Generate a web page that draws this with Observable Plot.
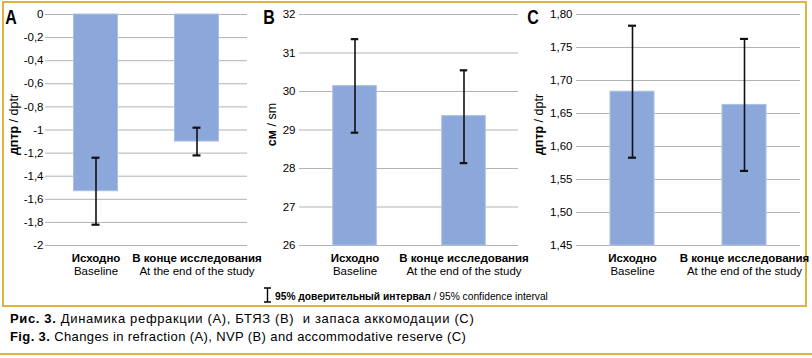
<!DOCTYPE html>
<html>
<head>
<meta charset="utf-8">
<script src="https://cdn.jsdelivr.net/npm/d3@7"></script>
<script src="https://cdn.jsdelivr.net/npm/@observablehq/plot@0.6"></script>
<style>
html, body { margin: 0; padding: 0; background: #fff; }
#page { position: relative; width: 812px; height: 358px; overflow: hidden;
  font-family: "Liberation Sans", Arial, sans-serif; color: #000; }
#box { position: absolute; left: 2px; top: 1px; width: 801px; height: 302px; border: 2px solid #E3B23C; }
.panel { position: absolute; top: 3px; }
.panel svg { display: block; overflow: visible; }
#legend { position: absolute; left: 263px; top: 287px; font-size: 11px; white-space: pre; }
#legend svg { position: absolute; left: 0; top: 0; }
#legend .t { position: absolute; left: 12px; top: 3px; display: inline-block; transform: scaleX(0.93); transform-origin: left center; }
#caption { position: absolute; left: 10px; top: 310px; font-size: 13px; line-height: 18px; white-space: pre; }
#caption .l1 { letter-spacing: 0.65px; }
#caption .l2 { letter-spacing: 0.38px; }
#rule { position: absolute; left: 0; top: 353px; width: 812px; height: 2px; background: #E3B23C; }
</style>
</head>
<body>
<div id="page">
  <div id="box"></div>
  <div class="panel" id="pA" style="left:3px"></div>
  <div class="panel" id="pB" style="left:262px"></div>
  <div class="panel" id="pC" style="left:527px"></div>
  <div id="legend"><svg width="10" height="16"><path d="M1,1H8M4.5,1V15M1,15H8" stroke="#000" stroke-width="1.4" fill="none"/></svg><span class="t"><b>95% доверительный интервал</b> / 95% confidence interval</span></div>
  <div id="caption"><span class="l1"><b>Рис. 3.</b> Динамика рефракции (A), БТЯЗ (B)  и запаса аккомодации (C)</span>
<span class="l2"><b>Fig. 3.</b> Changes in refraction (A), NVP (B) and accommodative reserve (C)</span></div>
  <div id="rule"></div>
</div>
<script>
// ---- data ----
const categoriesEn = ["Baseline", "At the end of the study"];
const categoriesRu = ["Исходно", "В конце исследования"];

const refractionMean = [-1.53, -1.10];
const refractionLow  = [-1.82, -1.22];
const refractionHigh = [-1.24, -0.98];

const nvpMean = [30.14, 29.36];
const nvpLow  = [28.93, 28.14];
const nvpHigh = [31.36, 30.55];

const reserveMean = [1.683, 1.663];
const reserveLow  = [1.583, 1.563];
const reserveHigh = [1.783, 1.763];

const refractionTicks = [0, -0.2, -0.4, -0.6, -0.8, -1, -1.2, -1.4, -1.6, -1.8, -2];
const nvpTicks = [26, 27, 28, 29, 30, 31, 32];
const reserveTicks = [1.45, 1.50, 1.55, 1.60, 1.65, 1.70, 1.75, 1.80];

const refractionDomain = [-2, 0];
const nvpDomain = [26, 32];
const reserveDomain = [1.45, 1.80];

const unitLabels = [["дптр", " / dptr"], ["см", " / sm"], ["дптр", " / dptr"]];
const panelLetters = ["A", "B", "C"];

// ---- drawing ----
const FONT = '"Liberation Sans", Arial, sans-serif';
const BAR_W = 44, CAP_W = 8;

function condense(sel, factor) {
  sel.each(function() {
    const w = this.getComputedTextLength();
    if (w > 0) {
      this.setAttribute("textLength", (w * factor).toFixed(2));
      this.setAttribute("lengthAdjust", "spacingAndGlyphs");
    }
  });
}

function panel(cfg) {
  const data = categoriesEn.map((c, i) => ({en: c, mean: cfg.mean[i], low: cfg.low[i], high: cfg.high[i]}));
  const step = (cfg.width - cfg.marginLeft - cfg.marginRight) / 2;
  const base = cfg.domain[0] < 0 ? cfg.domain[1] : cfg.domain[0];
  const height = 280, marginTop = 11, marginBottom = 38;
  const barInset = (step - BAR_W) / 2, capInset = (step - CAP_W) / 2;
  const svg = Plot.plot({
    width: cfg.width, height, marginTop, marginBottom,
    marginLeft: cfg.marginLeft, marginRight: cfg.marginRight,
    style: {fontFamily: FONT, fontSize: "11px", color: "#000", background: "transparent"},
    x: {domain: categoriesEn, padding: 0, axis: null},
    y: {domain: cfg.domain, axis: null},
    marks: [
      Plot.gridY(cfg.ticks, {stroke: "#b3b3b3", strokeOpacity: 1, strokeWidth: 1}),
      Plot.barY(data, {x: "en", y1: () => base, y2: "mean", fill: "#8CA8DA", stroke: "#a9bfe6", strokeWidth: 1,
        insetLeft: barInset, insetRight: barInset}),
      Plot.ruleX(data, {x: "en", y1: "low", y2: "high", stroke: "#111", strokeWidth: 1.6}),
      Plot.tickY(data, {x: "en", y: "low", stroke: "#111", strokeWidth: 2.2, insetLeft: capInset, insetRight: capInset}),
      Plot.tickY(data, {x: "en", y: "high", stroke: "#111", strokeWidth: 2.2, insetLeft: capInset, insetRight: capInset}),
      Plot.axisY(cfg.ticks, {tickSize: 0, tickPadding: cfg.tickPadding, tickFormat: cfg.fmt, fontSize: 11.5, label: null}),
      Plot.axisX({tickSize: 0, tickPadding: 8, tickFormat: d => categoriesRu[categoriesEn.indexOf(d)],
        fontWeight: "bold", fontSize: 11.5, label: null, ariaLabel: "x-axis ru"}),
      Plot.axisX({tickSize: 0, tickPadding: 21, tickFormat: d => d, fontSize: 11.5, label: null, ariaLabel: "x-axis en"})
    ]
  });
  document.getElementById(cfg.el).appendChild(svg);
  const s = d3.select(svg);
  condense(s.selectAll('g[aria-label="x-axis ru"] text'), 0.82);
  condense(s.selectAll('g[aria-label="x-axis en"] text'), 0.9);
  const cy = marginTop + (height - marginTop - marginBottom) / 2 - 5;
  const t = s.append("text")
    .attr("transform", `translate(${cfg.labelX},${cy}) rotate(-90)`)
    .attr("text-anchor", "middle").attr("dominant-baseline", "middle")
    .attr("font-family", FONT).attr("font-size", 12.5).attr("fill", "#000");
  t.append("tspan").attr("font-weight", "bold").text(cfg.unit[0]);
  t.append("tspan").text(cfg.unit[1]);
  const L = s.append("text").attr("x", cfg.letterX).attr("y", 21)
    .attr("font-family", FONT).attr("font-size", 21).attr("font-weight", "bold").attr("fill", "#000")
    .text(cfg.letter);
  condense(L, 0.76);
}

const comma = d => String(Math.round(d * 100) / 100).replace(".", ",");

panel({el: "pA", letter: panelLetters[0], letterX: 8, unit: unitLabels[0], labelX: 12,
  mean: refractionMean, low: refractionLow, high: refractionHigh,
  ticks: refractionTicks, domain: refractionDomain, fmt: comma,
  width: 255, marginLeft: 42, marginRight: 11, tickPadding: 2});
panel({el: "pB", letter: panelLetters[1], letterX: 7, unit: unitLabels[1], labelX: 11,
  mean: nvpMean, low: nvpLow, high: nvpHigh,
  ticks: nvpTicks, domain: nvpDomain, fmt: d => String(d),
  width: 258, marginLeft: 37, marginRight: 2, tickPadding: 4});
panel({el: "pC", letter: panelLetters[2], letterX: 6, unit: unitLabels[2], labelX: 13,
  mean: reserveMean, low: reserveLow, high: reserveHigh,
  ticks: reserveTicks, domain: reserveDomain, fmt: d => d.toFixed(2).replace(".", ","),
  width: 276, marginLeft: 49, marginRight: 3, tickPadding: 4});
</script>
</body>
</html>
